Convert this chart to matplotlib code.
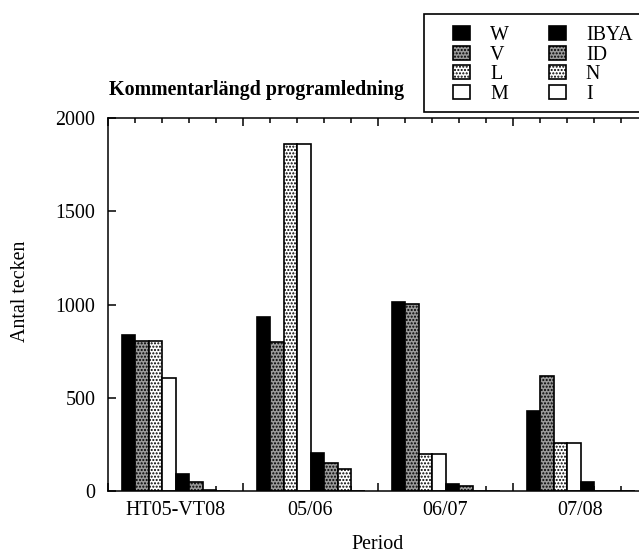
import numpy as np
import matplotlib
matplotlib.use("Agg")
from matplotlib import pyplot as plt
from matplotlib.patches import Rectangle
from matplotlib.ticker import MultipleLocator

plt.rcParams['font.family'] = ['Liberation Serif', 'DejaVu Serif']
plt.rcParams['font.size'] = 14.4
plt.rcParams['hatch.linewidth'] = 1.0

# data
periods = ["HT05-VT08", "05/06", "06/07", "07/08"]
series = ["W", "V", "L", "M", "IBYA", "ID", "N", "I"]
W    = [836, 935, 1015, 429]
V    = [806, 801, 1001, 618]
L    = [806, 1859, 197, 256]
M    = [604, 1859, 197, 256]
IBYA = [89, 205, 36, 50]
ID   = [47, 148, 25, 0]
N    = [8, 116, 0, 0]
I    = [0, 0, 0, 0]
values = [W, V, L, M, IBYA, ID, N, I]

# styles: black, dark stipple, light stipple, white (repeated)
styles = [dict(facecolor='black', hatch=None),
          dict(facecolor='#9a9a9a', hatch='.....'),
          dict(facecolor='white', hatch='.....'),
          dict(facecolor='white', hatch=None)] * 2

fig = plt.figure(figsize=(6.39, 5.54), dpi=100)
ax = fig.add_axes([108/639, 63/554, 540/639, 373/554])

x = np.arange(len(periods))
bw = 0.1
handles = []
for k, (name, vals) in enumerate(zip(series, values)):
    b = ax.bar(x + 0.1 + k*bw, vals, width=bw, align='edge', edgecolor='black',
               linewidth=1.2, label=name, zorder=2, **styles[k])
    handles.append(b)

ax.set_xlim(0, 4)
ax.set_ylim(0, 2000)
ax.xaxis.set_major_locator(MultipleLocator(1))
ax.xaxis.set_minor_locator(MultipleLocator(0.2))
ax.yaxis.set_major_locator(MultipleLocator(500))
ax.tick_params(axis='x', which='both', direction='in', top=True, bottom=True, labelbottom=False)
ax.tick_params(axis='x', which='major', length=6, width=1.1)
ax.tick_params(axis='x', which='minor', length=3.3, width=1.1)
ax.tick_params(axis='y', which='major', direction='in', left=True, right=True,
               length=6, width=1.1, pad=9)
for s in ax.spines.values():
    s.set_linewidth(1.1)

# period labels at the group centres
sec = ax.secondary_xaxis('bottom')
sec.set_xticks(x + 0.5, periods)
sec.tick_params(length=0, pad=7)
sec.spines['bottom'].set_visible(False)

ax.set_xlabel("Period")
ax.xaxis.set_label_coords(0.5, -0.118)
ax.set_ylabel("Antal tecken")
ax.yaxis.set_label_coords(-0.145, 0.536)

ax.text(0.276, 1.062, "Kommentarlängd programledning", transform=ax.transAxes,
        ha='center', va='baseline', fontweight='bold')

# legend box
fig.patches.append(Rectangle((424/639, 1 - 112/554), 0.5, 98/554, transform=fig.transFigure,
                             facecolor='white', edgecolor='black', linewidth=1.2))
fig.legend(handles=handles, ncol=2, loc='upper left', bbox_to_anchor=(453/639, 1 - 26/554),
           frameon=False, borderpad=0, borderaxespad=0, handlelength=0.85, handleheight=0.7,
           handletextpad=1.0, columnspacing=2.0, labelspacing=0.03)

fig.savefig("out.png", dpi=100)
